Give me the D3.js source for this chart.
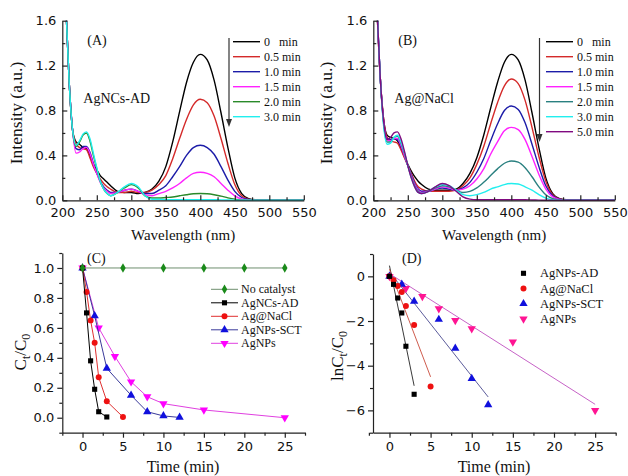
<!DOCTYPE html>
<html>
<head>
<meta charset="utf-8">
<script src="https://cdn.jsdelivr.net/npm/d3@7"></script>
<style>
  body { margin: 0; background: #fff; }
  text { fill: #111; font-weight: normal; }
</style>
</head>
<body>
<div id="chart"></div>
<script>
// ---- data ----
var wl = [205,210,215,220,225,230,235,240,245,250,255,260,265,270,280,290,300,310,320,330,340,350,360,370,380,390,400,410,420,430,440,450,460,470,480,500,550];

// panel A (AgNCs-AD), intensity per time
var aLabels = ["0   min", "0.5 min", "1.0 min", "1.5 min", "2.0 min", "3.0 min"];
var aColors = ["#000000", "#d42a2a", "#1c1ca8", "#ff22ff", "#2a8a2a", "#22eeee"];
var a0  = [1.75,1.05,0.62,0.52,0.50,0.47,0.46,0.40,0.32,0.27,0.22,0.19,0.16,0.13,0.08,0.07,0.07,0.06,0.07,0.10,0.17,0.30,0.52,0.79,1.05,1.23,1.30,1.25,1.07,0.78,0.47,0.20,0.06,0.015,0.005,0,0];
var a05 = [1.75,1.05,0.62,0.50,0.47,0.46,0.45,0.38,0.30,0.24,0.19,0.15,0.12,0.10,0.07,0.07,0.08,0.07,0.07,0.09,0.14,0.22,0.37,0.55,0.72,0.85,0.90,0.87,0.75,0.55,0.33,0.14,0.04,0.01,0.003,0,0];
var a10 = [1.75,1.05,0.62,0.46,0.45,0.48,0.48,0.43,0.33,0.24,0.17,0.12,0.09,0.07,0.07,0.09,0.10,0.08,0.06,0.06,0.09,0.13,0.21,0.30,0.40,0.47,0.49,0.47,0.41,0.30,0.18,0.08,0.025,0.007,0,0,0];
var a15 = [1.75,1.05,0.62,0.42,0.43,0.46,0.47,0.42,0.32,0.24,0.16,0.11,0.08,0.06,0.07,0.09,0.10,0.08,0.05,0.04,0.06,0.08,0.11,0.15,0.20,0.24,0.25,0.24,0.21,0.15,0.09,0.04,0.012,0.003,0,0,0];
var a20 = [1.75,1.05,0.62,0.48,0.52,0.58,0.60,0.53,0.40,0.28,0.17,0.10,0.06,0.04,0.07,0.11,0.14,0.11,0.04,0.02,0.02,0.025,0.03,0.04,0.05,0.058,0.06,0.058,0.05,0.037,0.022,0.01,0.003,0,0,0,0];
var a30 = [1.75,1.05,0.62,0.49,0.53,0.59,0.61,0.55,0.42,0.29,0.17,0.10,0.06,0.04,0.07,0.12,0.15,0.12,0.04,0.01,0.01,0.005,0.005,0.005,0.005,0.005,0.005,0.005,0.005,0.004,0.003,0.002,0,0,0,0,0];

// panel B (Ag@NaCl)
var bLabels = ["0   min", "0.5 min", "1.0 min", "1.5 min", "2.0 min", "3.0 min", "5.0 min"];
var bColors = ["#000000", "#d42a2a", "#1c1ca8", "#ff22ff", "#2a8080", "#22eeee", "#800a80"];
var b0  = [1.75,1.10,0.72,0.58,0.56,0.55,0.53,0.47,0.39,0.32,0.26,0.21,0.17,0.14,0.10,0.09,0.09,0.09,0.10,0.15,0.24,0.38,0.58,0.82,1.05,1.23,1.30,1.25,1.07,0.78,0.47,0.20,0.06,0.015,0.005,0,0];
var b05 = [1.75,1.10,0.72,0.56,0.53,0.52,0.51,0.45,0.38,0.31,0.24,0.17,0.12,0.10,0.08,0.08,0.08,0.08,0.09,0.13,0.20,0.32,0.48,0.68,0.87,1.02,1.08,1.04,0.89,0.65,0.39,0.17,0.05,0.012,0.004,0,0];
var b10 = [1.75,1.10,0.70,0.55,0.54,0.55,0.54,0.48,0.40,0.31,0.23,0.15,0.10,0.08,0.08,0.10,0.11,0.10,0.09,0.11,0.16,0.25,0.37,0.53,0.68,0.80,0.84,0.81,0.69,0.50,0.30,0.13,0.04,0.01,0.003,0,0];
var b15 = [1.75,1.10,0.70,0.54,0.53,0.55,0.55,0.49,0.40,0.31,0.22,0.14,0.09,0.07,0.08,0.10,0.12,0.11,0.09,0.10,0.13,0.19,0.28,0.41,0.52,0.62,0.65,0.63,0.54,0.39,0.23,0.10,0.03,0.008,0.002,0,0];
var b20 = [1.75,1.10,0.68,0.52,0.52,0.56,0.57,0.51,0.42,0.31,0.21,0.13,0.08,0.06,0.08,0.11,0.13,0.12,0.09,0.07,0.08,0.11,0.16,0.22,0.28,0.33,0.35,0.34,0.29,0.21,0.12,0.05,0.015,0.004,0,0,0];
var b30 = [1.75,1.10,0.66,0.50,0.51,0.56,0.58,0.52,0.43,0.31,0.20,0.12,0.07,0.06,0.08,0.12,0.14,0.13,0.09,0.05,0.04,0.05,0.07,0.10,0.12,0.14,0.15,0.145,0.12,0.09,0.05,0.02,0.006,0.002,0,0,0];
var b50 = [1.75,1.10,0.70,0.54,0.56,0.60,0.61,0.55,0.44,0.31,0.20,0.12,0.07,0.06,0.08,0.12,0.15,0.13,0.08,0.03,0.01,0.005,0.005,0.005,0.005,0.005,0.005,0.005,0.005,0.003,0.002,0,0,0,0,0,0];

// panel C: Ct/C0 vs time
var cNames = ["No catalyst", "AgNCs-AD", "Ag@NaCl", "AgNPs-SCT", "AgNPs"];
var tNone = [0, 5, 10, 15, 20, 25];
var cNone = [1, 1, 1, 1, 1, 1];
var tAD   = [0, 0.5, 1, 1.5, 2, 3];
var cAD   = [1, 0.70, 0.38, 0.19, 0.04, 0.005];
var tNaCl = [0, 0.5, 1, 1.5, 2, 3, 5];
var cNaCl = [1, 0.84, 0.65, 0.50, 0.27, 0.11, 0.005];
var tSCT  = [0, 1.5, 3, 6, 8, 10, 12];
var cSCT  = [1, 0.68, 0.33, 0.15, 0.04, 0.012, 0.002];
var tNP   = [0, 2, 4, 6, 8, 10, 15, 25];
var cNP   = [1, 0.60, 0.41, 0.24, 0.14, 0.094, 0.052, 0.0];

// panel D: ln(Ct/C0) and linear fits
var dNames = ["AgNPs-AD", "Ag@NaCl", "AgNPs-SCT", "AgNPs"];
var lnAD   = [0, -0.36, -0.97, -1.64, -3.13, -5.28];
var lnNaCl = [0, -0.18, -0.43, -0.70, -1.33, -2.18, -4.93];
var lnSCT  = [0, -0.36, -1.12, -1.93, -3.22, -4.58, -5.75];
var lnNP   = [0, -0.54, -0.90, -1.45, -1.97, -2.34, -2.94, -6.0];
var fitT   = [[0, 3], [0, 5], [0, 12], [0, 25]];
var fitLn  = [[0.48, -4.9], [0.32, -4.5], [0.2, -5.4], [0.12, -5.73]];

// ---- layout ----
var svg = d3.select("#chart").append("svg")
    .attr("width", 628).attr("height", 476);

var serif = "'Liberation Serif', 'Times New Roman', serif";
var sans = "'DejaVu Sans', sans-serif";

function drawAxes(g, x, y, xt, xm, yt, ym, inward, xfmt, yfmt) {
  var s = inward ? -1 : 1;
  var y0 = y.range()[0], x0 = x.range()[0];
  g.append("g").attr("transform", "translate(0," + y0 + ")")
    .call(d3.axisBottom(x).tickValues(xm).tickSize(3 * s).tickFormat(""))
    .call(function(a) { a.select(".domain").remove(); });
  g.append("g").attr("transform", "translate(0," + y0 + ")")
    .call(d3.axisBottom(x).tickValues(xt).tickSizeInner(5 * s).tickSizeOuter(0).tickPadding(inward ? 7 : 4).tickFormat(xfmt));
  g.append("g").attr("transform", "translate(" + x0 + ",0)")
    .call(d3.axisLeft(y).tickValues(ym).tickSize(3 * s).tickFormat(""))
    .call(function(a) { a.select(".domain").remove(); });
  g.append("g").attr("transform", "translate(" + x0 + ",0)")
    .call(d3.axisLeft(y).tickValues(yt).tickSizeInner(5 * s).tickSizeOuter(0).tickPadding(inward ? 6 : 3).tickFormat(yfmt));
  g.selectAll(".tick text").attr("font-size", 13).attr("font-family", sans).attr("fill", "#111");
  g.selectAll(".domain, .tick line").attr("stroke", "#222").attr("stroke-width", 1.2);
}

function spectrum(ox, series, colors, labels, tag, name, arrowX, legX, ylx) {
  var g = svg.append("g");
  var x = d3.scaleLinear().domain([200, 550]).range([ox, ox + 241.5]);
  var y = d3.scaleLinear().domain([0, 1.6]).range([200.3, 20.7]);
  var id = "clip" + tag;
  svg.append("clipPath").attr("id", id).append("rect")
    .attr("x", x(200)).attr("y", y(1.6)).attr("width", x(550) - x(200)).attr("height", y(0) - y(1.6) + 1);

  var line = d3.line()
    .x(function(d, i) { return x(wl[i]); })
    .y(function(d) { return y(d); })
    .curve(d3.curveMonotoneX);
  g.append("g").attr("clip-path", "url(#" + id + ")")
    .selectAll("path").data(series).enter().append("path")
      .attr("d", line)
      .attr("fill", "none")
      .attr("stroke", function(d, i) { return colors[i]; })
      .attr("stroke-width", 1.4);

  drawAxes(g, x, y, d3.range(200, 551, 50), d3.range(225, 550, 50),
    d3.range(0, 1.61, 0.4), d3.range(0.2, 1.6, 0.4), true,
    d3.format("d"), d3.format(".1f"));

  // legend with arrow
  var n = labels.length;
  g.append("line").attr("x1", arrowX).attr("x2", arrowX)
    .attr("y1", 38).attr("y2", 38 + n * 15 - 6)
    .attr("stroke", "#333").attr("stroke-width", 1.2);
  g.append("path")
    .attr("d", "M" + (arrowX - 3) + "," + (38 + n * 15 - 9) + "L" + (arrowX + 3) + "," + (38 + n * 15 - 9) + "L" + arrowX + "," + (38 + n * 15 - 1) + "Z")
    .attr("fill", "#333");
  labels.forEach(function(l, i) {
    var yy = 41.7 + i * 15;
    g.append("line").attr("x1", legX).attr("x2", legX + 27).attr("y1", yy).attr("y2", yy)
      .attr("stroke", colors[i]).attr("stroke-width", 1.4);
    g.append("text").attr("x", legX + 31).attr("y", yy + 4)
      .attr("font-family", serif).attr("font-size", 12)
      .attr("xml:space", "preserve").style("white-space", "pre")
      .text(l);
  });

  g.append("text").attr("x", ox + 25).attr("y", 45)
    .attr("font-family", serif).attr("font-size", 14).text("(" + tag + ")");
  g.append("text").attr("x", ox + 21).attr("y", 103)
    .attr("font-family", serif).attr("font-size", 14).text(name);
  g.append("text").attr("x", (x(200) + x(550)) / 2).attr("y", 240)
    .attr("text-anchor", "middle").attr("font-family", serif).attr("font-size", 15)
    .text("Wavelength (nm)");
  g.append("text").attr("transform", "translate(" + ylx + ",113) rotate(-90)")
    .attr("text-anchor", "middle").attr("font-family", serif).attr("font-size", 17.5)
    .text("Intensity (a.u.)");
}

spectrum(62.3, [a0, a05, a10, a15, a20, a30], aColors, aLabels, "A", "AgNCs-AD", 229, 233, 22);
spectrum(373.3, [b0, b05, b10, b15, b20, b30, b50], bColors, bLabels, "B", "Ag@NaCl", 539.5, 546, 332);

// ---- panel C ----
var symSquare = d3.symbol().type(d3.symbolSquare).size(26);
var symCircle = d3.symbol().type(d3.symbolCircle).size(28);
var symTri = d3.symbol().type(d3.symbolTriangle).size(30);
var symDiamond = d3.symbol().type(d3.symbolDiamond).size(26);

(function() {
  var g = svg.append("g");
  var x = d3.scaleLinear().domain([-2.5, 27.5]).range([62.3, 305]);
  var y = d3.scaleLinear().domain([-0.1, 1.1]).range([432.7, 253]);
  var sets = [
    {t: tNone, v: cNone, line: "#6f8f6f", mk: "#1a8a1a", sym: symDiamond, rot: 0},
    {t: tAD, v: cAD, line: "#000000", mk: "#000000", sym: symSquare, rot: 0},
    {t: tNaCl, v: cNaCl, line: "#e03030", mk: "#ee1111", sym: symCircle, rot: 0},
    {t: tSCT, v: cSCT, line: "#3a3a9a", mk: "#1010dd", sym: symTri, rot: 0},
    {t: tNP, v: cNP, line: "#e040e0", mk: "#ff00ff", sym: symTri, rot: 180}
  ];
  var line = d3.line()
    .x(function(d) { return x(d[0]); })
    .y(function(d) { return y(d[1]); });
  sets.slice().reverse().forEach(function(s) {
    var pts = s.t.map(function(t, i) { return [t, s.v[i]]; });
    g.append("path").datum(pts).attr("d", line)
      .attr("fill", "none").attr("stroke", s.line).attr("stroke-width", 1);
    g.selectAll(null).data(pts).enter().append("path")
      .attr("d", s.sym)
      .attr("transform", function(d) { return "translate(" + x(d[0]) + "," + y(d[1]) + ") rotate(" + s.rot + ")"; })
      .attr("fill", s.mk);
  });
  drawAxes(g, x, y, d3.range(0, 26, 5), d3.range(-2.5, 28, 5),
    d3.range(0, 1.01, 0.2), [-0.1, 0.1, 0.3, 0.5, 0.7, 0.9, 1.1], false,
    d3.format("d"), d3.format(".1f"));
  // legend
  sets.forEach(function(s, i) {
    var yy = 289.3 + i * 13.5;
    g.append("line").attr("x1", 211).attr("x2", 238).attr("y1", yy).attr("y2", yy)
      .attr("stroke", s.line).attr("stroke-width", 1);
    g.append("path").attr("d", s.sym)
      .attr("transform", "translate(224.5," + yy + ") rotate(" + s.rot + ")")
      .attr("fill", s.mk);
    g.append("text").attr("x", 241).attr("y", yy + 4)
      .attr("font-family", serif).attr("font-size", 12).text(cNames[i]);
  });
  g.append("text").attr("x", 87).attr("y", 263)
    .attr("font-family", serif).attr("font-size", 14).text("(C)");
  g.append("text").attr("x", 183).attr("y", 472).attr("text-anchor", "middle")
    .attr("font-family", serif).attr("font-size", 16).text("Time (min)");
  var yl = g.append("text").attr("transform", "translate(26,352) rotate(-90)")
    .attr("text-anchor", "middle").attr("font-family", serif).attr("font-size", 17);
  yl.append("tspan").text("C");
  yl.append("tspan").attr("font-size", 12).attr("dy", 4).text("t");
  yl.append("tspan").attr("dy", -4).text("/C");
  yl.append("tspan").attr("font-size", 12).attr("dy", 4).text("0");
})();

// ---- panel D ----
(function() {
  var g = svg.append("g");
  var x = d3.scaleLinear().domain([-2, 27.5]).range([373, 615.7]);
  var y = d3.scaleLinear().domain([-7, 1]).range([432.7, 254]);
  var sets = [
    {t: tAD, v: lnAD, line: "#222222", mk: "#000000", sym: symSquare, rot: 0},
    {t: tNaCl, v: lnNaCl, line: "#c84a3a", mk: "#ee1111", sym: symCircle, rot: 0},
    {t: tSCT, v: lnSCT, line: "#4a4a90", mk: "#1010dd", sym: symTri, rot: 0},
    {t: tNP, v: lnNP, line: "#c050c0", mk: "#ff1493", sym: symTri, rot: 180}
  ];
  var line = d3.line()
    .x(function(d) { return x(d[0]); })
    .y(function(d) { return y(d[1]); });
  sets.forEach(function(s, k) {
    var fit = fitT[k].map(function(t, i) { return [t, fitLn[k][i]]; });
    g.append("path").datum(fit).attr("d", line)
      .attr("fill", "none").attr("stroke", s.line).attr("stroke-width", 0.9);
  });
  sets.slice().reverse().forEach(function(s) {
    var pts = s.t.map(function(t, i) { return [t, s.v[i]]; });
    g.selectAll(null).data(pts).enter().append("path")
      .attr("d", s.sym)
      .attr("transform", function(d) { return "translate(" + x(d[0]) + "," + y(d[1]) + ") rotate(" + s.rot + ")"; })
      .attr("fill", s.mk);
  });
  drawAxes(g, x, y, d3.range(0, 26, 5), d3.range(-2.5, 28, 5),
    [-6, -4, -2, 0], [-7, -5, -3, -1, 1], false,
    d3.format("d"), d3.format("d"));
  sets.forEach(function(s, i) {
    var yy = 273.3 + i * 15.2;
    g.append("path").attr("d", s.sym)
      .attr("transform", "translate(523.5," + yy + ") rotate(" + s.rot + ")")
      .attr("fill", s.mk);
    g.append("text").attr("x", 540).attr("y", yy + 4)
      .attr("font-family", serif).attr("font-size", 12.5).text(dNames[i]);
  });
  g.append("text").attr("x", 402).attr("y", 263)
    .attr("font-family", serif).attr("font-size", 14).text("(D)");
  g.append("text").attr("x", 494).attr("y", 472).attr("text-anchor", "middle")
    .attr("font-family", serif).attr("font-size", 16).text("Time (min)");
  var yl = g.append("text").attr("transform", "translate(343,356) rotate(-90)")
    .attr("text-anchor", "middle").attr("font-family", serif).attr("font-size", 17);
  yl.append("tspan").text("lnC");
  yl.append("tspan").attr("font-size", 12).attr("dy", 4).text("t");
  yl.append("tspan").attr("dy", -4).text("/C");
  yl.append("tspan").attr("font-size", 12).attr("dy", 4).text("0");
})();
</script>
</body>
</html>
